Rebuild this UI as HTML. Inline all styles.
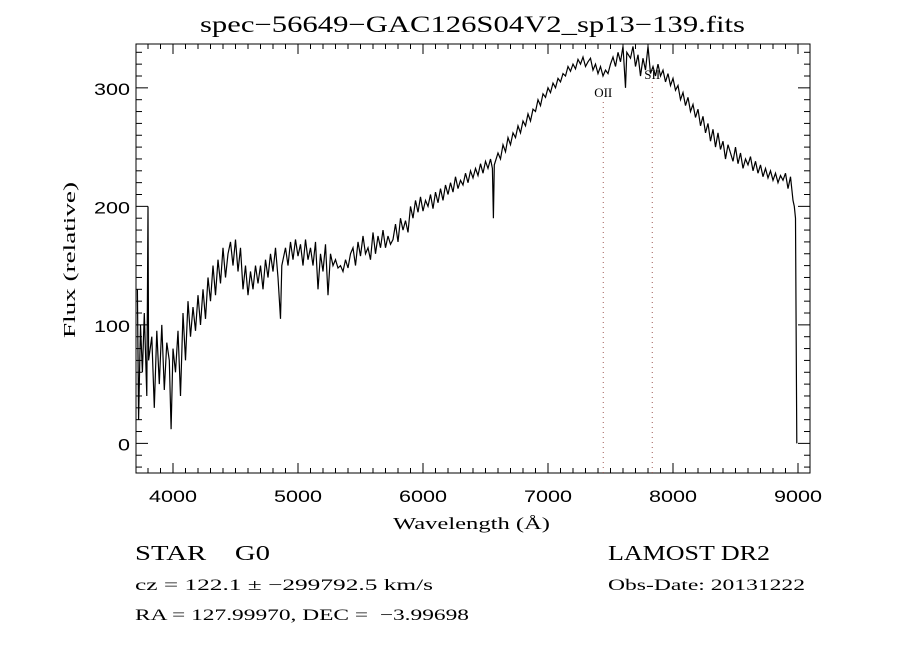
<!DOCTYPE html>
<html><head><meta charset="utf-8"><style>
body{margin:0;background:#fff;width:900px;height:650px;overflow:hidden}
svg text{font-family:"Liberation Serif",serif}
</style></head><body>
<svg id="chart" width="900" height="650" xmlns="http://www.w3.org/2000/svg">
<text x="200" y="32" font-size="23" textLength="545" lengthAdjust="spacingAndGlyphs">spec−56649−GAC126S04V2_sp13−139.fits</text>
<rect x="136" y="44" width="674" height="429" fill="none" stroke="#000" stroke-width="1"/>
<g id="ticks"></g>
<g id="lines"></g>
<g id="series"></g>
<text x="393" y="529" font-size="17" textLength="157" lengthAdjust="spacingAndGlyphs">Wavelength (Å)</text>
<text x="0" y="0" transform="translate(75,338) rotate(-90)" font-size="17" textLength="156" lengthAdjust="spacingAndGlyphs">Flux (relative)</text>
<text x="135" y="560" font-size="21" xml:space="preserve" textLength="135" lengthAdjust="spacingAndGlyphs">STAR    G0</text>
<text x="608" y="560" font-size="21" textLength="162" lengthAdjust="spacingAndGlyphs">LAMOST DR2</text>
<text x="135" y="590" font-size="16" textLength="298" lengthAdjust="spacingAndGlyphs">cz = 122.1 ± −299792.5 km/s</text>
<text x="608" y="590" font-size="16" textLength="197" lengthAdjust="spacingAndGlyphs">Obs-Date: 20131222</text>
<text x="135" y="620" font-size="16" xml:space="preserve" textLength="334" lengthAdjust="spacingAndGlyphs">RA = 127.99970, DEC =  −3.99698</text>
</svg>
<script>
const wavelengths=[3715,3725,3740,3755,3770,3790,3800,3805,3830,3850,3870,3890,3910,3930,3950,3970,3985,4000,4020,4040,4060,4080,4100,4120,4140,4160,4180,4200,4220,4240,4260,4280,4300,4320,4340,4360,4380,4400,4420,4440,4460,4480,4500,4520,4540,4560,4580,4600,4620,4640,4660,4680,4700,4720,4740,4760,4780,4800,4820,4840,4860,4870,4900,4920,4940,4960,4980,5000,5020,5040,5060,5080,5100,5120,5140,5160,5180,5200,5220,5240,5260,5280,5300,5320,5340,5360,5380,5400,5420,5440,5460,5480,5500,5520,5540,5560,5580,5600,5620,5640,5660,5680,5700,5720,5740,5760,5780,5800,5820,5840,5860,5880,5900,5920,5940,5960,5980,6000,6020,6040,6060,6080,6100,6120,6140,6160,6180,6200,6220,6240,6260,6280,6300,6320,6340,6360,6380,6400,6420,6440,6460,6480,6500,6520,6540,6555,6563,6570,6600,6620,6640,6660,6680,6700,6720,6740,6760,6780,6800,6820,6840,6860,6880,6900,6920,6940,6960,6980,7000,7020,7040,7060,7080,7100,7120,7140,7160,7180,7200,7220,7240,7260,7280,7300,7320,7340,7360,7380,7400,7420,7440,7460,7480,7500,7520,7540,7560,7580,7600,7620,7630,7660,7680,7700,7720,7740,7760,7780,7800,7820,7840,7860,7880,7900,7920,7940,7960,7980,8000,8020,8040,8060,8080,8100,8120,8140,8160,8180,8200,8220,8240,8260,8280,8300,8320,8340,8360,8380,8400,8420,8440,8460,8480,8500,8520,8540,8560,8580,8600,8620,8640,8660,8680,8700,8720,8740,8760,8780,8800,8820,8840,8860,8880,8900,8920,8940,8960,8970,8980,8985,8990];
const fluxValues=[130,20,100,60,110,40,200,70,90,30,95,50,100,45,85,70,12,80,60,95,40,110,70,120,90,115,95,125,100,130,105,140,120,150,125,155,135,165,140,160,170,150,172,145,165,130,150,125,145,130,150,135,150,130,155,140,160,145,165,140,105,150,165,150,170,155,172,158,168,150,172,155,165,150,170,130,160,145,168,125,160,150,155,148,150,145,155,148,160,165,150,170,158,175,160,165,155,178,160,175,165,180,165,175,168,172,185,170,190,180,188,178,200,190,205,195,208,196,205,200,210,198,212,203,215,205,218,210,220,212,225,215,222,218,228,220,230,224,232,226,236,228,238,232,240,232,190,235,245,240,252,246,258,252,262,258,268,262,272,268,278,272,282,280,290,285,295,292,300,296,304,300,308,305,312,310,318,314,320,316,324,320,326,318,322,325,315,320,312,318,310,315,312,320,326,318,330,322,335,300,330,325,335,318,328,310,325,315,335,312,318,310,320,310,315,305,312,302,308,298,302,290,296,285,292,280,286,275,282,268,276,262,270,255,265,250,262,248,255,240,252,245,238,250,236,245,232,240,235,242,230,238,228,235,225,232,224,230,222,228,220,226,222,228,215,225,205,200,190,100,0];
const xTickLabels=["4000","5000","6000","7000","8000","9000"];
const yTickLabels=["0","100","200","300"];
const lineNames=["OII","SII"];
const lineWaves=[7442,7834];

const L=136,R=810,T=44,B=473,XMIN=3704,XMAX=9096,YMIN=-25,YMAX=337;
const xs=w=>L+(w-XMIN)/(XMAX-XMIN)*(R-L);
const ys=v=>B-(v-YMIN)/(YMAX-YMIN)*(B-T);
const NS="http://www.w3.org/2000/svg";
function mk(tag,parent){const e=document.createElementNS(NS,tag);parent.appendChild(e);return e;}
const tg=document.getElementById('ticks');
function tick(x1,y1,x2,y2){const l=mk('line',tg);l.setAttribute('x1',x1);l.setAttribute('y1',y1);l.setAttribute('x2',x2);l.setAttribute('y2',y2);l.setAttribute('stroke','#000');

}
for(let w=3800;w<=9000;w+=100){const x=xs(w),maj=w%1000===0,len=maj?10:5;tick(x,B,x,B-len);tick(x,T,x,T+len);}
for(let v=-20;v<=330;v+=10){const y=ys(v),maj=v%100===0,len=maj?12:6;tick(L,y,L+len,y);tick(R,y,R-len,y);}
xTickLabels.forEach(s=>{const t=mk('text',tg);t.setAttribute('x',xs(+s)-24);t.setAttribute('y',B+29);t.setAttribute('font-size','17');t.setAttribute('textLength','48');t.setAttribute('lengthAdjust','spacingAndGlyphs');t.setAttribute('style','font-family:"Liberation Sans",sans-serif');t.textContent=s;

});
yTickLabels.forEach(s=>{const t=mk('text',tg);const w=s.length*12;t.setAttribute('x',L-6-w);t.setAttribute('y',ys(+s)+7);t.setAttribute('font-size','17');t.setAttribute('textLength',w);t.setAttribute('lengthAdjust','spacingAndGlyphs');t.setAttribute('style','font-family:"Liberation Sans",sans-serif');t.textContent=s;

});
const lg=document.getElementById('lines');
lineWaves.forEach((w,i)=>{const l=mk('line',lg);l.setAttribute('x1',xs(w));l.setAttribute('x2',xs(w));l.setAttribute('y1',ys(YMIN));l.setAttribute('y2',i===0?102:82);l.setAttribute('stroke','#a05a55');l.setAttribute('stroke-dasharray','1 4');


const t=mk('text',lg);t.setAttribute('x',xs(w));t.setAttribute('y',i===0?97:79);t.setAttribute('text-anchor','middle');t.setAttribute('font-size','13');t.textContent=lineNames[i];

});
const sg=document.getElementById('series');
const cp=mk('clipPath',sg);cp.setAttribute('id','clip');const cr=mk('rect',cp);cr.setAttribute('x',L);cr.setAttribute('y',T);cr.setAttribute('width',R-L);cr.setAttribute('height',B-T);
const p=mk('path',sg);


p.setAttribute('d',wavelengths.map((w,i)=>(i?'L':'M')+xs(w).toFixed(1)+','+ys(fluxValues[i]).toFixed(1)).join(''));
p.setAttribute('fill','none');p.setAttribute('stroke','#000');p.setAttribute('stroke-width','1.2');p.setAttribute('clip-path','url(#clip)');
</script>
</body></html>
